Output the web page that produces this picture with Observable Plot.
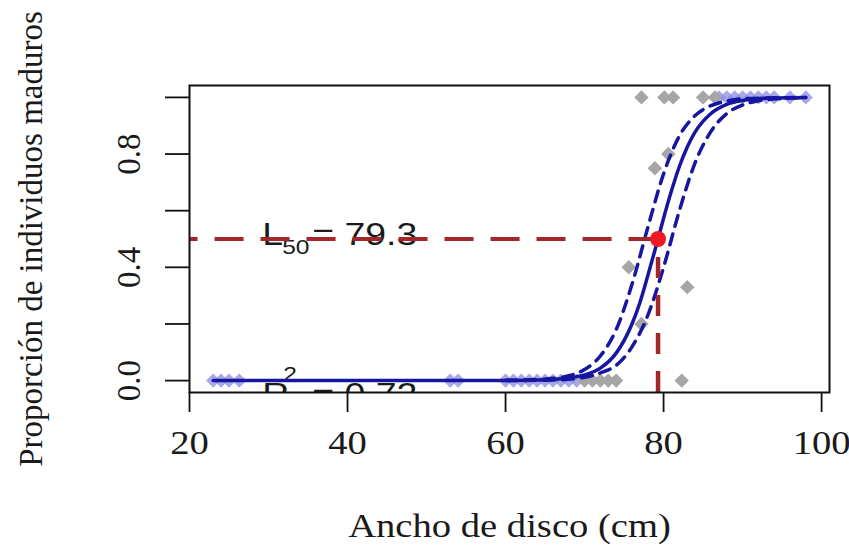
<!DOCTYPE html>
<html>
<head>
<meta charset="utf-8">
<script src="https://cdn.jsdelivr.net/npm/d3@7"></script>
<script src="https://cdn.jsdelivr.net/npm/@observablehq/plot@0.6"></script>
<style>
  html, body { margin: 0; padding: 0; background: #fff; }
</style>
</head>
<body>
<script>
// Axis ticks and labels
const xTicks = [20, 40, 60, 80, 100];
const yTicks = [0, 0.2, 0.4, 0.6, 0.8, 1.0];
const yTickLabels = [0, 0.4, 0.8];
const xTitle = "Ancho de disco (cm)";
const yTitle = "Proporción de individuos maduros";

// Size at 50% maturity and goodness of fit
const L50 = 79.3;
const r2 = 0.72;

// Observed proportions of mature individuals per size class
const propX = [70, 71, 72, 73, 74, 82.3, 77.2, 75.6, 83.0, 78.9, 80.6, 77.2, 80.1, 81.2, 85.0, 86.5];
const propP = [0, 0, 0, 0, 0, 0, 0.2, 0.4, 0.33, 0.75, 0.8, 1, 1, 1, 1, 1];

// Individual observations (immature = 0, mature = 1)
const indX = [23, 24, 25, 26.3, 53, 54, 60, 61, 62, 63, 64, 65, 66, 67, 68, 69,
              87, 88, 89, 90, 91, 92, 93, 94, 96, 98];
const indM = [0, 0, 0, 0, 0, 0, 0, 0, 0, 0, 0, 0, 0, 0, 0, 0,
              1, 1, 1, 1, 1, 1, 1, 1, 1, 1];

// Fitted logistic ogive
const fitX = [23, 40, 60, 66, 68, 70, 72, 74, 76, 77, 78, 79.3, 80, 81, 82, 83, 84, 86, 88, 90, 93, 98];
const fitP = [0, 0, 0, 0.004, 0.009, 0.02, 0.044, 0.097, 0.2, 0.275, 0.37, 0.5, 0.573, 0.67, 0.756, 0.825, 0.878, 0.943, 0.975, 0.989, 0.997, 1.0];

// Confidence band of the ogive (upper and lower limits)
const upX = [60, 64, 66, 68, 70, 72, 74, 76, 78, 80, 82, 84, 86, 88, 90, 95, 98];
const upP = [0.001, 0.004, 0.008, 0.017, 0.039, 0.087, 0.18, 0.34, 0.54, 0.73, 0.864, 0.936, 0.971, 0.987, 0.995, 0.999, 1.0];
const loX = [60, 66, 70, 72, 74, 76, 78, 80, 82, 84, 86, 88, 90, 92, 95, 98];
const loP = [0, 0.002, 0.012, 0.027, 0.054, 0.119, 0.23, 0.4, 0.6, 0.77, 0.88, 0.943, 0.973, 0.988, 0.996, 0.999];

// Annotation anchor (data units)
const noteX = 29.2;

const xDomain = [20, 101];
const yDomain = [-0.042, 1.042];

const zip = (xs, ys) => xs.map((x, i) => ({x, y: ys[i]}));
const props = zip(propX, propP);
const inds = zip(indX, indM);
const fit = zip(fitX, fitP);
const up = zip(upX, upP);
const lo = zip(loX, loP);

const navy = "#1616a0";
const brick = "#a3262a";
const sans = "Liberation Sans, Arial, sans-serif";

const chart = Plot.plot({
  width: 849,
  height: 549,
  marginLeft: 189,
  marginRight: 20,
  marginTop: 85,
  marginBottom: 157,
  style: {fontFamily: "Liberation Serif, Times New Roman, serif", fontSize: "33px", color: "#1a1a1a", background: "#fff"},
  x: {domain: xDomain},
  y: {domain: yDomain},
  marks: [
    // observations
    Plot.dot(inds, {x: "x", y: "y", symbol: "diamond2", r: 6.5, fill: "#8c8ce2", fillOpacity: 0.75, stroke: "none"}),
    Plot.dot(props, {x: "x", y: "y", symbol: "diamond2", r: 6.5, fill: "#a6a6a6", stroke: "none"}),

    // L50 annotation text
    Plot.text([L50], {x: () => noteX, y: () => 0.5, text: () => "L", textAnchor: "start", lineAnchor: "middle", dy: -4, fontFamily: sans, fontSize: 32}),
    Plot.text([L50], {x: () => noteX, y: () => 0.5, text: () => "50", textAnchor: "start", lineAnchor: "middle", dx: 20, dy: 8, fontFamily: sans, fontSize: 21}),
    Plot.text([L50], {x: () => noteX, y: () => 0.5, text: d => "= " + d.toFixed(1), textAnchor: "start", lineAnchor: "middle", dx: 50, dy: -4, fontFamily: sans, fontSize: 32}),

    // R² annotation, clipped by the plotting region
    Plot.text([r2], {x: () => noteX, y: () => 0, text: () => "R", textAnchor: "start", lineAnchor: "middle", dy: 14, fontFamily: sans, fontSize: 32, clip: true}),
    Plot.text([r2], {x: () => noteX, y: () => 0, text: () => "2", textAnchor: "start", lineAnchor: "middle", dx: 21, dy: -6, fontFamily: sans, fontSize: 21, clip: true}),
    Plot.text([r2], {x: () => noteX, y: () => 0, text: d => "= " + d.toFixed(2), textAnchor: "start", lineAnchor: "middle", dx: 50, dy: 14, fontFamily: sans, fontSize: 32, clip: true}),

    // fitted ogive and confidence band
    Plot.line(up, {x: "x", y: "y", stroke: navy, strokeWidth: 3.5, strokeDasharray: "11,8", curve: "monotone-x"}),
    Plot.line(lo, {x: "x", y: "y", stroke: navy, strokeWidth: 3.5, strokeDasharray: "11,8", curve: "monotone-x"}),
    Plot.line(fit, {x: "x", y: "y", stroke: navy, strokeWidth: 3.5, curve: "monotone-x"}),

    // L50 guides
    Plot.ruleY([0.5], {x1: L50, x2: xDomain[0], stroke: brick, strokeWidth: 4, strokeDasharray: "29,17"}),
    Plot.ruleX([L50], {y1: yDomain[0], y2: 0.5, stroke: brick, strokeWidth: 4.5, strokeDasharray: "21,17"}),
    Plot.dot([L50], {x: d => d, y: () => 0.5, r: 8, fill: "#ee1a24", stroke: "none"}),

    // axes
    Plot.axisX({ticks: xTicks, tickSize: 20, tickPadding: 18, tickFormat: d => String(d), label: null, stroke: "#111", strokeWidth: 1.8}),
    Plot.axisY({ticks: yTicks, tickSize: 24, tickFormat: () => "", label: null, stroke: "#111", strokeWidth: 1.8}),
    Plot.text(yTickLabels, {y: d => d, frameAnchor: "left", text: d => d.toFixed(1), rotate: -90, dx: -60, textAnchor: "middle", lineAnchor: "middle"}),
    Plot.text([xTitle], {frameAnchor: "bottom", text: d => d, dy: 134, textAnchor: "middle", lineAnchor: "middle"}),
    Plot.text([yTitle], {frameAnchor: "left", text: d => d, rotate: -90, dx: -158, textAnchor: "middle", lineAnchor: "middle"}),

    Plot.frame({stroke: "#111", strokeWidth: 2})
  ]
});

document.body.append(chart);

// Horizontal lettering is set slightly wide
chart.querySelectorAll("text").forEach(t => {
  const tr = t.getAttribute("transform") || "";
  if (tr.includes("rotate")) return;
  const len = t.getComputedTextLength();
  if (len > 0) {
    t.setAttribute("textLength", (len * 1.17).toFixed(1));
    t.setAttribute("lengthAdjust", "spacingAndGlyphs");
  }
});
</script>
</body>
</html>
